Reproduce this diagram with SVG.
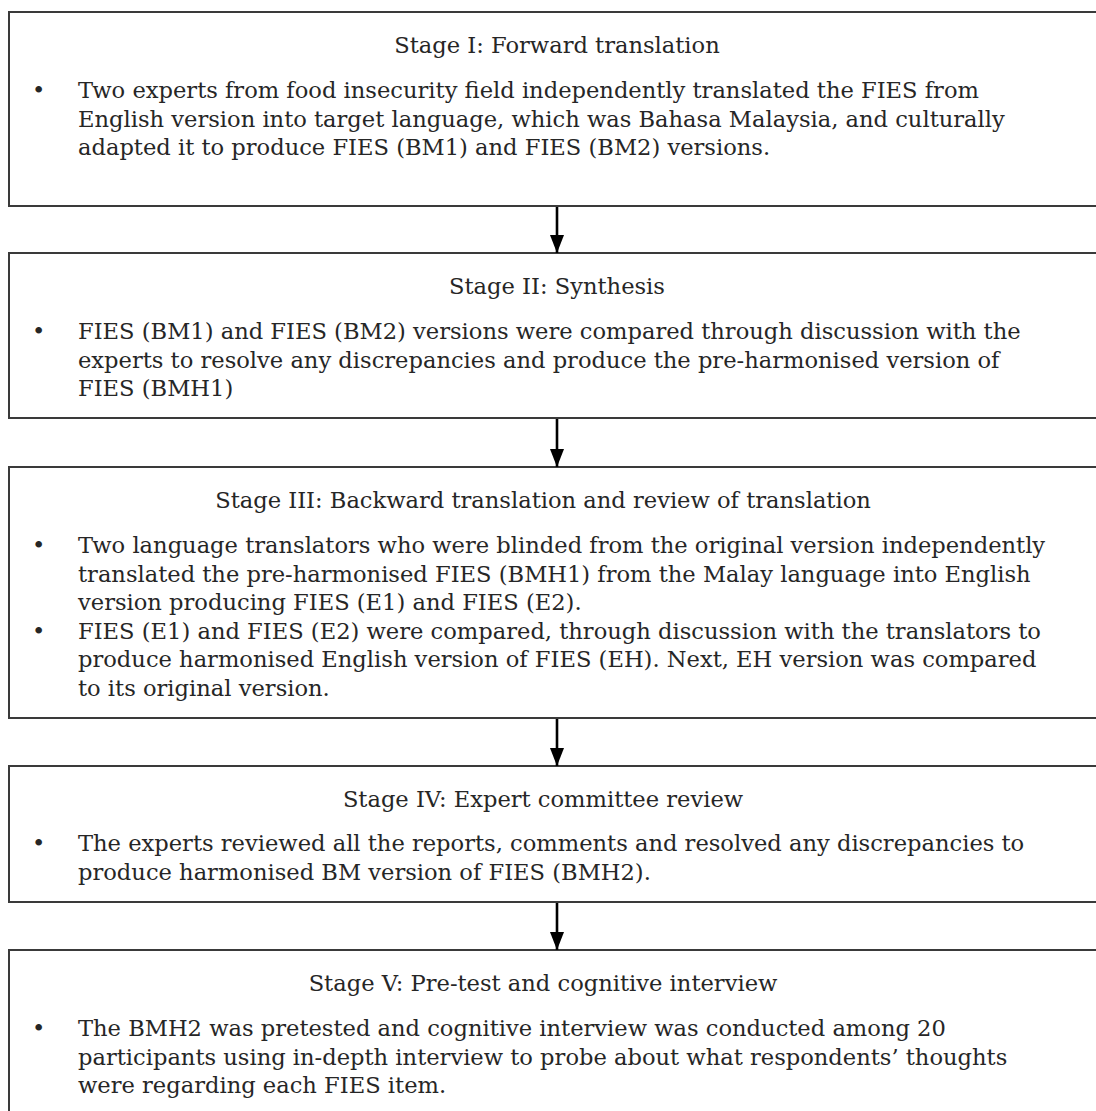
<svg xmlns="http://www.w3.org/2000/svg" width="1096" height="1111" viewBox="0 0 1096 1111">
<defs>
<style>
.box{fill:#fff;stroke:#3a3a3a;stroke-width:2}
.t{font-family:"DejaVu Serif","Liberation Serif",serif;font-size:22.6px;fill:#262626}
.ti{text-anchor:middle}
.con{stroke:#000;stroke-width:2.6;fill:none}
</style>
<marker id="ah" markerWidth="18" markerHeight="14" refX="18" refY="7" orient="auto" markerUnits="userSpaceOnUse" viewBox="0 0 18 14">
<path d="M0,0 L18,7 L0,14 Z" fill="#000"/>
</marker>
</defs>
<rect width="1096" height="1111" fill="#fff"/>
<g id="stage1">
<rect class="box" x="9" y="12" width="1100" height="194"/>
<text class="t ti" x="557" y="53">Stage I: Forward translation</text>
<text class="t" x="32" y="98">•</text>
<text class="t" x="78" y="98">Two experts from food insecurity field independently translated the FIES from</text>
<text class="t" x="78" y="126.5">English version into target language, which was Bahasa Malaysia, and culturally</text>
<text class="t" x="78" y="155">adapted it to produce FIES (BM1) and FIES (BM2) versions.</text>
</g>
<g id="stage2">
<rect class="box" x="9" y="253" width="1100" height="165"/>
<text class="t ti" x="557" y="294">Stage II: Synthesis</text>
<text class="t" x="32" y="339">•</text>
<text class="t" x="78" y="339">FIES (BM1) and FIES (BM2) versions were compared through discussion with the</text>
<text class="t" x="78" y="367.5">experts to resolve any discrepancies and produce the pre-harmonised version of</text>
<text class="t" x="78" y="396">FIES (BMH1)</text>
</g>
<g id="stage3">
<rect class="box" x="9" y="467" width="1100" height="251"/>
<text class="t ti" x="543" y="508">Stage III: Backward translation and review of translation</text>
<text class="t" x="32" y="553">•</text>
<text class="t" x="78" y="553">Two language translators who were blinded from the original version independently</text>
<text class="t" x="78" y="581.5">translated the pre-harmonised FIES (BMH1) from the Malay language into English</text>
<text class="t" x="78" y="610">version producing FIES (E1) and FIES (E2).</text>
<text class="t" x="32" y="638.5">•</text>
<text class="t" x="78" y="638.5">FIES (E1) and FIES (E2) were compared, through discussion with the translators to</text>
<text class="t" x="78" y="667">produce harmonised English version of FIES (EH). Next, EH version was compared</text>
<text class="t" x="78" y="695.5">to its original version.</text>
</g>
<g id="stage4">
<rect class="box" x="9" y="766" width="1100" height="136"/>
<text class="t ti" x="543" y="807">Stage IV: Expert committee review</text>
<text class="t" x="32" y="851">•</text>
<text class="t" x="78" y="851">The experts reviewed all the reports, comments and resolved any discrepancies to</text>
<text class="t" x="78" y="879.5">produce harmonised BM version of FIES (BMH2).</text>
</g>
<g id="stage5">
<rect class="box" x="9" y="950" width="1100" height="180"/>
<text class="t ti" x="543" y="991">Stage V: Pre-test and cognitive interview</text>
<text class="t" x="32" y="1036">•</text>
<text class="t" x="78" y="1036">The BMH2 was pretested and cognitive interview was conducted among 20</text>
<text class="t" x="78" y="1064.5">participants using in-depth interview to probe about what respondents’ thoughts</text>
<text class="t" x="78" y="1093">were regarding each FIES item.</text>
</g>
<g id="connectors">
<line class="con" x1="557" y1="207" x2="557" y2="253" marker-end="url(#ah)"/>
<line class="con" x1="557" y1="419" x2="557" y2="467" marker-end="url(#ah)"/>
<line class="con" x1="557" y1="719" x2="557" y2="766" marker-end="url(#ah)"/>
<line class="con" x1="557" y1="903" x2="557" y2="950" marker-end="url(#ah)"/>
</g>
</svg>
